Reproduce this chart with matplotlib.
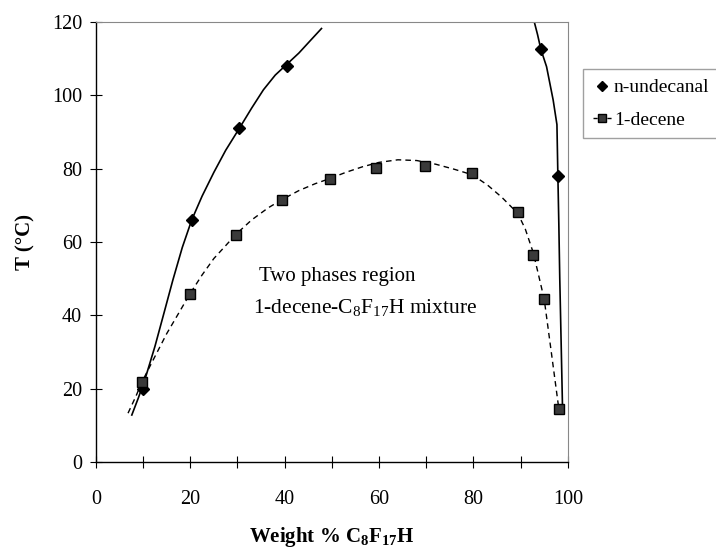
import matplotlib
matplotlib.use("Agg")
import matplotlib.pyplot as plt
from matplotlib.lines import Line2D
from matplotlib.ticker import MultipleLocator

plt.rcParams['font.family'] = ['Liberation Serif', 'DejaVu Serif']
plt.rcParams['mathtext.fontset'] = 'custom'
plt.rcParams['mathtext.rm'] = 'Liberation Serif'
plt.rcParams['mathtext.bf'] = 'Liberation Serif:bold'

# measured points
undecanal_x = [10.0, 20.3, 30.4, 40.5, 94.3, 97.9]
undecanal_t = [19.9, 66.0, 91.2, 108.0, 112.5, 78.0]
decene_x = [9.7, 19.9, 29.6, 39.5, 49.6, 59.3, 69.7, 79.8, 89.4, 92.7, 95.0, 98.1]
decene_t = [21.7, 45.8, 61.9, 71.4, 77.1, 80.3, 80.6, 78.7, 68.2, 56.4, 44.4, 14.5]

# trend curves
und_left_x = [7.6, 9.0, 10.5, 12.5, 14.5, 16.3, 18.3, 20.3, 22.5, 25.0, 27.5, 30.4, 33.0, 35.5, 38.0, 40.5, 43.0, 45.5, 47.8]
und_left_t = [12.8, 17.5, 23.0, 31.5, 41.0, 49.6, 58.5, 66.0, 72.5, 79.0, 85.0, 91.0, 96.5, 101.5, 105.5, 108.5, 111.5, 115.0, 118.2]
und_right_x = [92.9, 93.6, 94.3, 95.5, 96.9, 97.7, 97.9, 98.1, 98.3, 98.6, 98.9]
und_right_t = [120.0, 116.5, 112.5, 107.8, 98.7, 92.0, 78.0, 65.0, 50.0, 32.0, 13.7]
dec_curve_x = [6.8, 8.5, 9.7, 12.0, 15.0, 17.5, 19.9, 22.5, 25.0, 27.5, 29.6, 33.0, 36.5, 39.5, 43.0, 46.5, 49.6,
               53.0, 56.5, 60.0, 64.0, 68.0, 72.0, 76.0, 79.8, 83.0, 86.0, 89.4, 91.0, 92.7, 93.8, 95.0, 96.5, 98.1]
dec_curve_t = [13.3, 18.0, 21.7, 27.5, 35.0, 40.5, 45.8, 51.0, 55.5, 59.0, 62.0, 66.0, 69.3, 71.6, 74.0, 75.9, 77.3,
               79.0, 80.5, 81.7, 82.4, 82.2, 81.2, 79.8, 78.3, 75.5, 72.2, 67.8, 63.5, 57.0, 51.0, 44.4, 30.0, 14.5]

fig = plt.figure(figsize=(7.16, 5.48), dpi=100)
ax = fig.add_axes([0.134, 0.157, 0.659, 0.803])

ax.plot(und_left_x, und_left_t, color='black', lw=1.2)
ax.plot(und_right_x, und_right_t, color='black', lw=1.2)
ax.plot(dec_curve_x, dec_curve_t, color='black', lw=1.0, ls=(0, (4, 3)))
ax.plot(undecanal_x, undecanal_t, ls='none', marker='D', ms=6.5, color='black')
ax.plot(decene_x, decene_t, ls='none', marker='s', ms=6.5, mfc='#3a3a3a', mec='black')

ax.set_xlim(0, 100)
ax.set_ylim(0, 120)
ax.xaxis.set_major_locator(MultipleLocator(20))
ax.xaxis.set_minor_locator(MultipleLocator(10))
ax.yaxis.set_major_locator(MultipleLocator(20))
ax.tick_params(which='both', direction='inout', length=8, width=0.8, labelsize=14.5, pad=16)
ax.tick_params(axis='y', pad=6)
ax.tick_params(which='minor', length=8)

for s in ['top', 'right']:
    ax.spines[s].set_color('#888888')
    ax.spines[s].set_linewidth(0.8)
for s in ['left', 'bottom']:
    ax.spines[s].set_linewidth(1.0)

ax.set_ylabel('T (°C)', fontsize=15, fontweight='bold', labelpad=12)
ax.set_xlabel(r'Weight % C$_{\mathbf{8}}$F$_{\mathbf{17}}$H', fontsize=15, fontweight='bold', labelpad=12)

ax.text(34.5, 50.5, 'Two phases region', fontsize=15, va='center')
ax.text(33.3, 41.8, r'1-decene-C$_{\mathrm{8}}$F$_{\mathrm{17}}$H mixture', fontsize=15.5, va='center')

handles = [Line2D([], [], ls='none', marker='D', ms=5.5, color='black'),
           Line2D([], [], ls=(0, (3, 2)), lw=1.0, marker='s', ms=5.5, mfc='#3a3a3a', mec='black', color='black')]
fig.legend(handles, ['n-undecanal', '1-decene'], loc='upper left', bbox_to_anchor=(0.814, 0.874),
           fontsize=14, frameon=True, fancybox=False, edgecolor='#888888', handlelength=1.0,
           handletextpad=0.1, borderpad=0.5, labelspacing=0.75, borderaxespad=0)

fig.savefig('out.png', dpi=100)
